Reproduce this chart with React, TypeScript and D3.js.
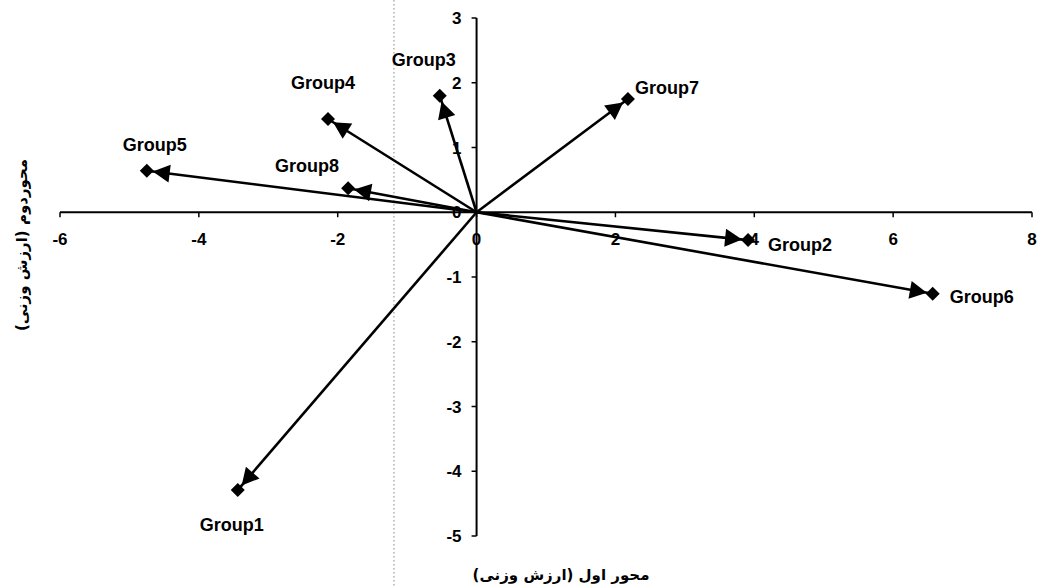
import React from "react";
import * as d3 from "d3";

// Biplot scores of each group on the first two axes
const groups = ["Group1", "Group2", "Group3", "Group4", "Group5", "Group6", "Group7", "Group8"];
const axis1Scores = [-3.44, 3.91, -0.53, -2.14, -4.75, 6.57, 2.18, -1.85];
const axis2Scores = [-4.29, -0.43, 1.8, 1.44, 0.64, -1.26, 1.75, 0.37];

const xTickValues = [-6, -4, -2, 0, 2, 4, 6, 8];
const yTickValues = [3, 2, 1, 0, -1, -2, -3, -4, -5];
const referenceLineX = -1.19;

const xTitle = "محور اول (ارزش وزنی)";
const yTitle = "محوردوم (ارزش وزنی)";

// label placement (pixel offsets of label centre from its point)
const labelOffsets: Record<string, [number, number]> = {
  Group1: [-6, 35],
  Group2: [52, 5],
  Group3: [-16, -36],
  Group4: [-5, -36],
  Group5: [8, -26],
  Group6: [49, 3],
  Group7: [39, -11],
  Group8: [-41, -22],
};

const W = 1040;
const H = 588;

export default function App() {
  const x = d3.scaleLinear().domain([-6, 8]).range([60, 1032]);
  const y = d3.scaleLinear().domain([-5, 3]).range([536, 18]);
  const x0 = x(0);
  const y0 = y(0);

  const points = groups.map((g, i) => ({
    name: g,
    px: x(axis1Scores[i]),
    py: y(axis2Scores[i]),
  }));

  const tickFont = { fontFamily: "'Liberation Sans', Arial, sans-serif", fontWeight: 700, fontSize: 17 };
  const labelFont = { fontFamily: "'Liberation Sans', Arial, sans-serif", fontWeight: 700, fontSize: 18 };
  const titleFont = { fontFamily: "'DejaVu Sans', sans-serif", fontWeight: 700, fontSize: 15 };

  const arrowHead = (px: number, py: number) => {
    const dx = px - x0;
    const dy = py - y0;
    const len = Math.hypot(dx, dy);
    const ux = dx / len;
    const uy = dy / len;
    const tipX = px - ux * 6;
    const tipY = py - uy * 6;
    const baseX = tipX - ux * 17;
    const baseY = tipY - uy * 17;
    const hw = 9;
    return `M${tipX},${tipY}L${baseX - uy * hw},${baseY + ux * hw}L${baseX + uy * hw},${baseY - ux * hw}Z`;
  };

  // square diamond marker
  const dm = 7;
  const diamondPath = `M0,${-dm}L${dm},0L0,${dm}L${-dm},0Z`;

  return (
    <svg
      width={W}
      height={H}
      style={{ position: "absolute", left: 0, top: 0, background: "#fff" }}
    >
      <rect width={W} height={H} fill="#fff" />

      {/* dotted reference line */}
      <line
        x1={x(referenceLineX)}
        x2={x(referenceLineX)}
        y1={0}
        y2={H}
        stroke="#888"
        strokeWidth={1}
        strokeDasharray="1.5,2.5"
      />

      {/* x axis */}
      <line x1={x(-6)} x2={x(8)} y1={y0} y2={y0} stroke="#000" strokeWidth={2} />
      {xTickValues.map((t) => (
        <g key={"xt" + t}>
          <line x1={x(t)} x2={x(t)} y1={y0} y2={y0 + 5} stroke="#000" strokeWidth={1.5} />
          <text x={x(t)} y={y0 + 33} textAnchor="middle" {...tickFont}>
            {t}
          </text>
        </g>
      ))}

      {/* y axis */}
      <line x1={x0} x2={x0} y1={y(3)} y2={y(-5)} stroke="#000" strokeWidth={2} />
      {yTickValues.map((t) => (
        <g key={"yt" + t}>
          <line x1={x0 - 5} x2={x0} y1={y(t)} y2={y(t)} stroke="#000" strokeWidth={1.5} />
          <text x={x0 - 15} y={y(t) + 6} textAnchor="end" {...tickFont}>
            {t}
          </text>
        </g>
      ))}

      {/* vectors */}
      {points.map((p) => (
        <g key={p.name}>
          <line x1={x0} y1={y0} x2={p.px} y2={p.py} stroke="#000" strokeWidth={2.6} />
          <path d={arrowHead(p.px, p.py)} fill="#000" />
          <path d={diamondPath} transform={`translate(${p.px},${p.py})`} fill="#000" />
          <text
            x={p.px + labelOffsets[p.name][0]}
            y={p.py + labelOffsets[p.name][1] + 6}
            textAnchor="middle"
            {...labelFont}
          >
            {p.name}
          </text>
        </g>
      ))}

      {/* axis titles */}
      <text x={561} y={580} textAnchor="middle" direction="rtl" {...titleFont}>
        {xTitle}
      </text>
      <text
        transform="translate(27,245) rotate(-90)"
        textAnchor="middle"
        direction="rtl"
        {...titleFont}
      >
        {yTitle}
      </text>
    </svg>
  );
}
